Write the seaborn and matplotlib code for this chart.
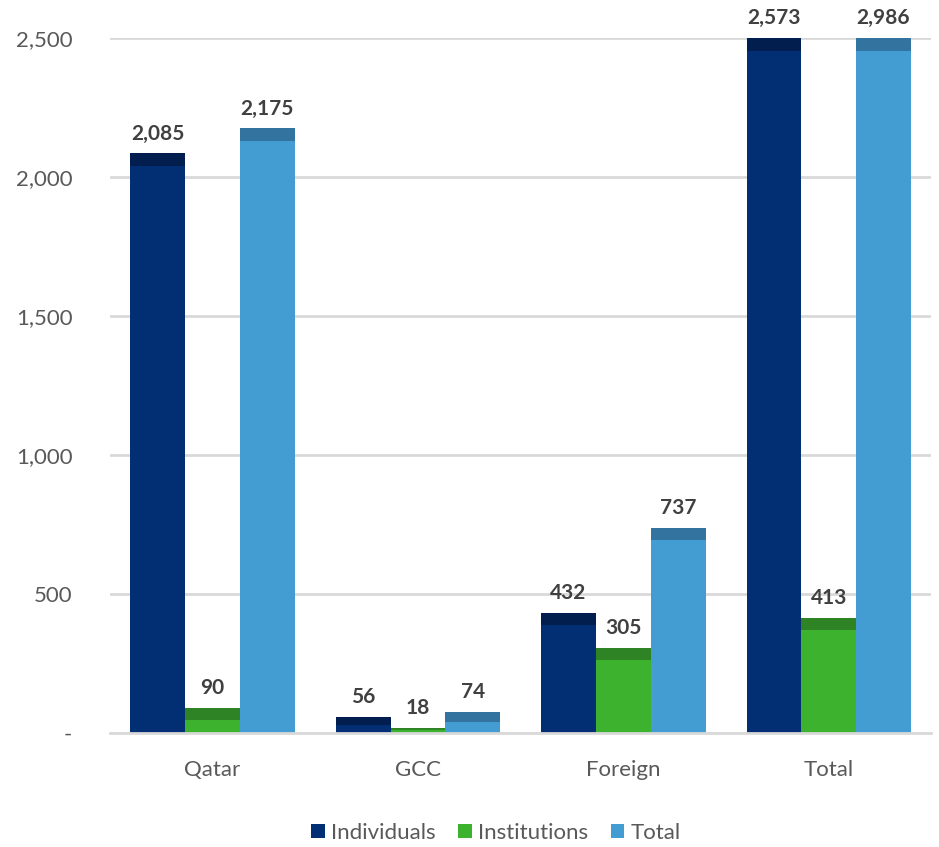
import numpy as np
import pandas as pd
import matplotlib
matplotlib.use("Agg")
import matplotlib.pyplot as plt
import seaborn as sns
from matplotlib.patches import Rectangle

regions = ["Qatar", "GCC", "Foreign", "Total"]
individuals = [2085, 56, 432, 2573]
institutions = [90, 18, 305, 413]
total = [2175, 74, 737, 2986]
series = ["Individuals", "Institutions", "Total"]
yticks = [0, 500, 1000, 1500, 2000, 2500]
ytick_labels = ["-", "500", "1,000", "1,500", "2,000", "2,500"]

colors = ["#022F74", "#3DB22F", "#449DD2"]
tops = ["#011E4F", "#2E8424", "#3273A0"]
ymax = 2500

df = pd.DataFrame({
    "region": regions * 3,
    "series": sum([[s] * len(regions) for s in series], []),
    "value": individuals + institutions + total,
})
df["shown"] = df["value"].clip(upper=ymax)

sns.set_style("white")
plt.rcParams["font.family"] = ["Lato", "DejaVu Sans"]

fig = plt.figure(figsize=(9.39, 8.47), dpi=100)
ax = fig.add_axes([0.117, 0.135, 0.875, 0.82])

ax.set_axisbelow(True)
ax.yaxis.grid(True, color="#D9D9D9", linewidth=2)

sns.barplot(data=df, x="region", y="shown", hue="series", hue_order=series,
            palette=colors, width=0.8, saturation=1, ax=ax, legend=True,
            edgecolor="none")

# darker cap on each bar to hint at the 3D look
n = len(regions)
for i, bar in enumerate(ax.patches[:3 * n]):
    k = i // n
    h = bar.get_height()
    if h <= 0:
        continue
    cap = min(45, h * 0.5)
    ax.add_patch(Rectangle((bar.get_x(), h - cap), bar.get_width(), cap,
                           color=tops[k], lw=0, zorder=bar.get_zorder() + 0.1))
    val = df["value"].iloc[i]
    ax.text(bar.get_x() + bar.get_width() / 2, h + 35, f"{val:,}", ha="center", va="bottom",
            fontsize=15, fontweight="bold", color="#404040", clip_on=False)

ax.set_ylim(0, ymax)
ax.set_xlim(-0.5, 3.5)
ax.set_yticks(yticks)
ax.set_yticklabels(ytick_labels)
ax.set_xlabel("")
ax.set_ylabel("")
for s in ["top", "right", "left"]:
    ax.spines[s].set_visible(False)
ax.spines["bottom"].set_color("#D9D9D9")
ax.spines["bottom"].set_linewidth(2)
ax.tick_params(axis="y", length=0, pad=27, labelsize=16, labelcolor="#595959")
ax.tick_params(axis="x", length=0, pad=20, labelsize=16, labelcolor="#595959")

handles, labels = ax.get_legend_handles_labels()
ax.legend(handles[:3], labels[:3], loc="upper center", bbox_to_anchor=(0.47, -0.107),
          ncol=3, frameon=False, fontsize=16, handlelength=0.6, handleheight=0.6,
          handletextpad=0.3, columnspacing=1.0, labelcolor="#595959",
          borderpad=0.2)

fig.savefig("out.png", dpi=100)
